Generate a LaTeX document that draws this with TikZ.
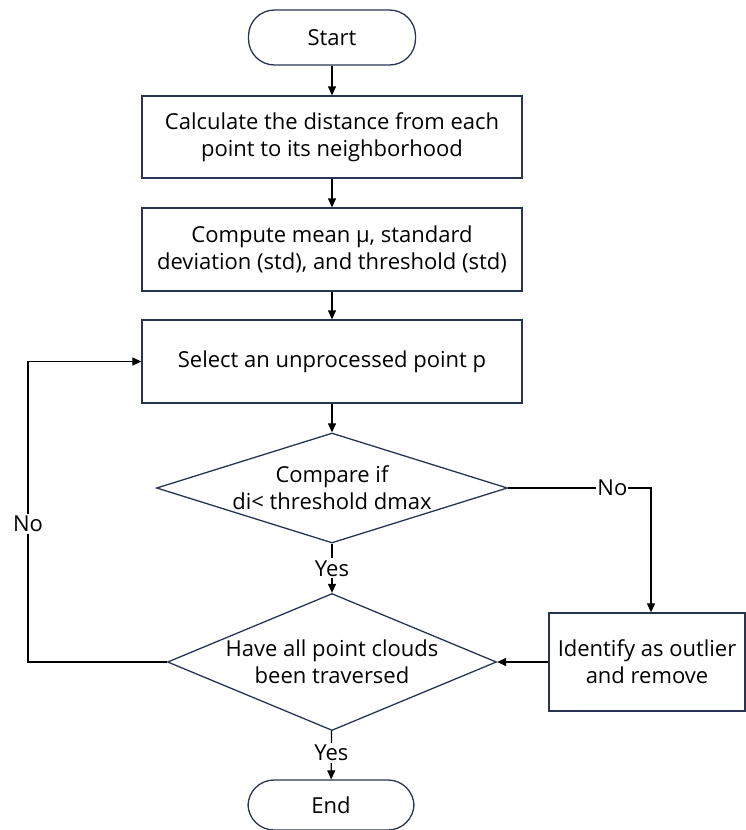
\documentclass[tikz,border=0pt]{standalone}
\usepackage{fontspec}
\setmainfont{Open Sans}
\usetikzlibrary{shapes.geometric,arrows.meta}
\definecolor{boxline}{RGB}{40,52,82}

\begin{document}
\begin{tikzpicture}[x=1pt,y=-1pt,
    font=\fontsize{22}{27}\selectfont,
    base/.style={draw=boxline,line width=1.3pt,align=center,inner sep=2pt},
    terminal/.style={base,rounded corners=26pt},
    process/.style={base,minimum width=380pt,minimum height=83pt},
    decision/.style={base,diamond,inner sep=0pt},
    flow/.style={-{Triangle[length=9pt,width=8pt]},line width=1.2pt},
    lbl/.style={fill=white,inner sep=2pt}]
    \useasboundingbox (0,0) rectangle (745,830);
    % main column
    \node[terminal,minimum width=167pt,minimum height=55pt] (start) at (332,37.5) {Start};
    \node[process,minimum height=82pt] (dist) at (332,137) {Calculate the distance from each\\point to its neighborhood};
    \node[process] (stats) at (332,249.5) {Compute mean µ, standard\\deviation (std), and threshold (std)};
    \node[process] (select) at (332,361.5) {Select an unprocessed point p};
    \node[decision,aspect=3.2,minimum width=351pt,minimum height=110pt] (cmp) at (332,488) {Compare if\\di< threshold dmax};
    \node[decision,aspect=2.4,minimum width=329pt,minimum height=137pt] (trav) at (332,662) {Have all point clouds\\been traversed};
    \node[terminal,minimum width=166pt,minimum height=50pt] (end) at (331,805) {End};
    % side branch
    \node[process,minimum width=196pt,minimum height=98pt] (outlier) at (647,662) {Identify as outlier\\and remove};
    \coordinate (noturn) at (651,488);
    \coordinate (loopx) at (28,0);

    \draw[flow] (start) -- (dist);
    \draw[flow] (dist) -- (stats);
    \draw[flow] (stats) -- (select);
    \draw[flow] (select) -- (cmp);
    \draw[flow] (cmp) -- node[lbl] {Yes} (trav);
    \draw[flow] (trav) -- node[lbl,pos=0.45] {Yes} (end);
    \draw[flow] (cmp.east) -- node[lbl,pos=0.73,inner sep=1pt] {No} (noturn) -- (noturn |- outlier.north);
    \draw[flow] (outlier.west |- trav) -- (trav.east);
    \draw[flow] (trav.west) -- (trav.west -| loopx) -- node[lbl,pos=0.46] {No} (select.west -| loopx) -- (select.west);
\end{tikzpicture}
\end{document}
